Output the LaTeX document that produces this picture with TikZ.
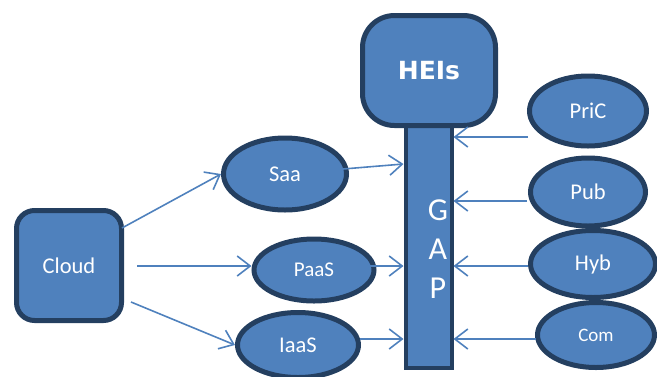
\documentclass[tikz,border=0pt]{standalone}
\usepackage{fontspec}
\setmainfont{Carlito}
\newfontfamily\heavyfont{DejaVu Sans}
\usetikzlibrary{arrows.meta,shapes.geometric}
\definecolor{fillblue}{HTML}{4F81BD}
\definecolor{edgeblue}{HTML}{243F60}
\tikzset{
  part/.style = {draw=edgeblue, fill=fillblue, line width=5pt, text=white, inner sep=0pt},
  oval/.style = {part, ellipse},
  arr/.style  = {draw=fillblue, line width=1.6pt, -{Straight Barb[length=13pt,width=20pt]}},
  big/.style  = {font=\fontsize{22.5}{26}\selectfont}
}

\begin{document}
\begin{tikzpicture}[x=1pt, y=-1pt]
                    \useasboundingbox (0,0) rectangle (657,376);
                    \node[part, line width=4pt, minimum width=46pt, minimum height=250pt] at (428.5,243) (G) {};
                    \node[text=white, align=center, font=\fontsize{32}{39}\selectfont] at (438,249) (L) {G\\A\\P};
                    \node[part, rounded corners=32pt, minimum width=133pt, minimum height=110pt, font=\heavyfont\bfseries\fontsize{25}{29}\selectfont] at (429,70.5) (H) {\raisebox{-2pt}{HEIs}};
                    \node[part, rounded corners=18pt, minimum width=105pt, minimum height=110pt, big] at (69,265.5) (C) {Cloud};

                    \node[oval, minimum width=123pt, minimum height=72pt, big] at (285,174) (S) {Saa};
                    \node[oval, minimum width=120pt, minimum height=62pt, font=\fontsize{21}{24}\selectfont] at (314,270) (PA) {\raisebox{-3pt}{PaaS}};
                    \node[oval, minimum width=121pt, minimum height=65pt, big] at (298,345) (I) {IaaS};

                    \node[oval, minimum width=117pt, minimum height=70pt, big] at (588,111) (PR) {PriC};
                    \node[oval, minimum width=115pt, minimum height=68pt, big] at (588,192) (PU) {Pub};
                    \node[oval, minimum width=125pt, minimum height=67pt, big] at (593,264) (HY) {Hyb};
                    \node[oval, minimum width=117pt, minimum height=65pt, font=\fontsize{19}{22}\selectfont] at (596,335) (CO) {Com};

                    % from the cloud
                    \coordinate (c1) at (122,228);
                    \coordinate (c2) at (137,266);
                    \coordinate (c3) at (131,302);
                    \draw [arr] (c1) -- (S.west);
                    \draw [arr] (c2) -- (c2 -| PA.west);
                    \draw [arr] (c3) -- (I.west);

                    % into the gap
                    \coordinate (s1) at (343,169);
                    \coordinate (s2) at (360,266);
                    \coordinate (s3) at (360,339);
                    \draw [arr] (s1) -- (G.west |- 0,164);
                    \draw [arr] (s2) -- (s2 -| G.west);
                    \draw [arr] (s3) -- (s3 -| G.west);

                    \coordinate (r1) at (528,137);
                    \coordinate (r2) at (527,201);
                    \coordinate (r3) at (528,266);
                    \coordinate (r4) at (536,339);
                    \draw [arr] (r1) -- (r1 -| G.east);
                    \draw [arr] (r2) -- (r2 -| G.east);
                    \draw [arr] (r3) -- (r3 -| G.east);
                    \draw [arr] (r4) -- (r4 -| G.east);
                \end{tikzpicture}
\end{document}
